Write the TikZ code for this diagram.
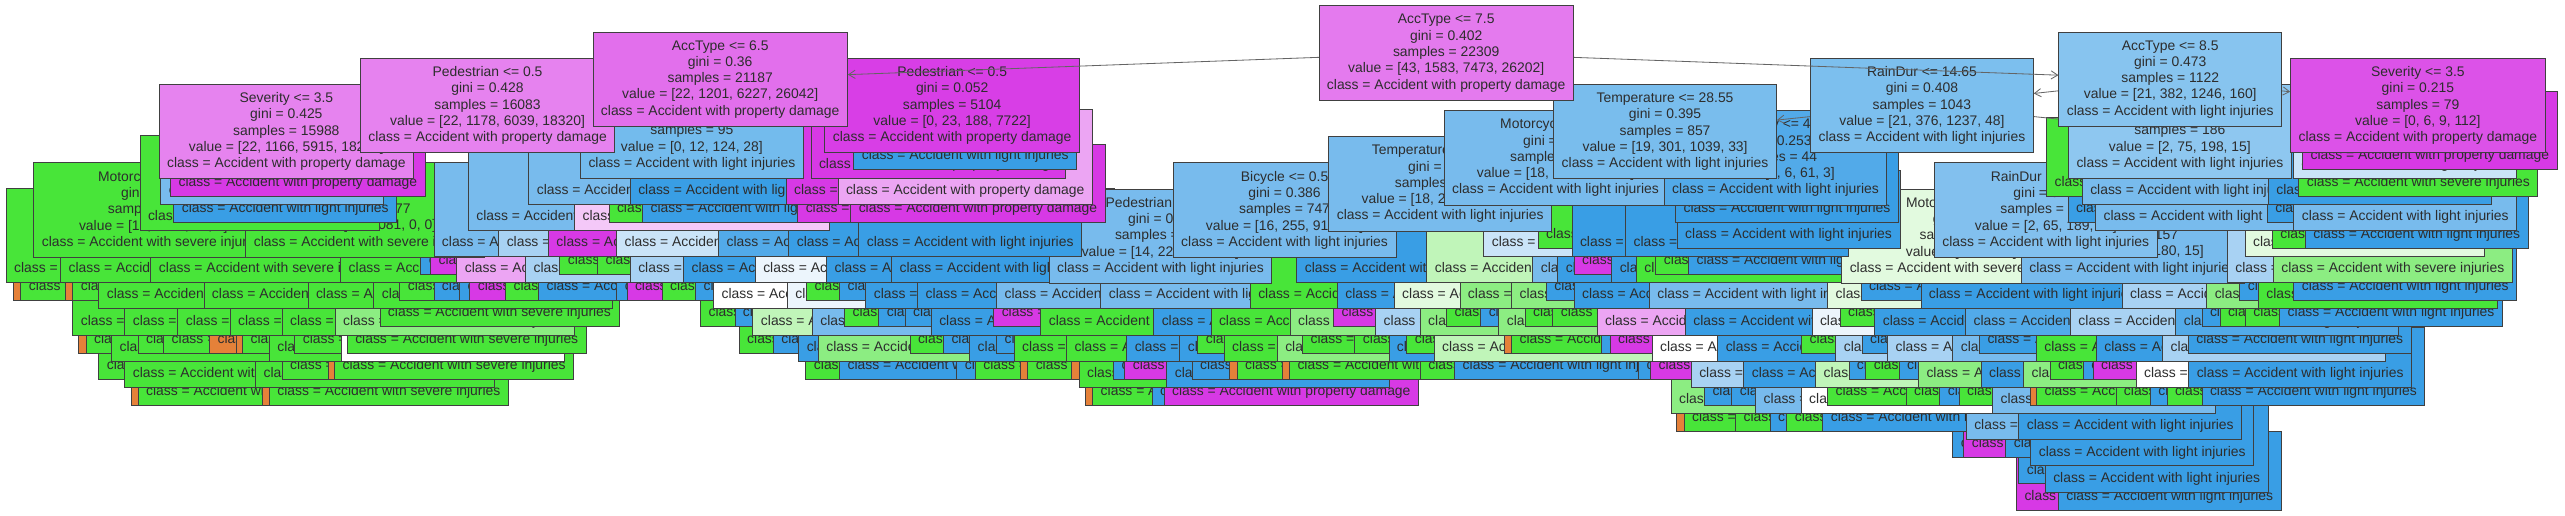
\documentclass[tikz,border=0pt]{standalone}
\usepackage{fontspec}
\setmainfont{Liberation Sans}
\usetikzlibrary{arrows.meta}
\definecolor{cG}{RGB}{72,229,57}
\definecolor{cGl}{RGB}{140,237,130}
\definecolor{cGp}{RGB}{192,245,185}
\definecolor{cGvp}{RGB}{226,250,223}
\definecolor{cB}{RGB}{57,158,229}
\definecolor{cBm}{RGB}{82,170,233}
\definecolor{cBl}{RGB}{120,187,237}
\definecolor{cBp}{RGB}{168,210,243}
\definecolor{cBvp}{RGB}{202,228,248}
\definecolor{cBw}{RGB}{236,245,252}
\definecolor{cW}{RGB}{255,255,255}
\definecolor{cM}{RGB}{215,57,229}
\definecolor{cMp}{RGB}{236,165,243}
\definecolor{cMvp}{RGB}{244,200,248}
\definecolor{cO}{RGB}{229,129,57}
\definecolor{cRoot}{RGB}{228,122,238}
\definecolor{cA65}{RGB}{226,111,236}
\definecolor{cP428}{RGB}{230,130,239}
\definecolor{cSev}{RGB}{230,131,239}
\definecolor{cP052}{RGB}{216,62,230}
\definecolor{cR1465}{RGB}{124,191,238}
\definecolor{cA85}{RGB}{135,196,239}
\definecolor{cS215}{RGB}{220,82,232}
\definecolor{cT}{RGB}{121,189,237}
\definecolor{cS95}{RGB}{115,187,237}
\definecolor{cS186}{RGB}{142,199,240}
\definecolor{cRD}{RGB}{130,192,238}
\definecolor{edge}{RGB}{64,64,64}
\definecolor{ink}{RGB}{45,45,45}
\definecolor{arrowc}{RGB}{100,100,100}
\newcount\bxn
\newcommand\Ltx{class = Accident with light injuries}
\newcommand\Stx{class = Accident with severe injuries}
\newcommand\Ptx{class = Accident with property damage}
\newcommand\Otx{class = Accident with fatalities}
\newcommand\TBi[4]{\global\advance\bxn by 1\relax
  \pgfmathsetmacro\ybot{61.1+16*#1}%
  \node[cbox, fill=#3, text height=47.7pt, anchor=south west] (b\the\bxn) at (#2,\ybot) {#4};}
\newcommand\TBl[4]{\global\advance\bxn by 1\relax
  \pgfmathsetmacro\ybot{56.1+16*#1}%
  \node[cbox, fill=#3, text height=37.7pt, anchor=south west] (b\the\bxn) at (#2,\ybot) {#4};}
\newcommand\TBf[5]{\pgfmathsetmacro\ytop{3.3+16*#1}%
  \node[fbox, fill=#3, anchor=north west] (#4) at (#2,\ytop) {#5};}
\newcommand\hid{\phantom{X}}
\tikzset{
  base/.style={draw=edge, line width=0.55pt, text=ink, font=\fontsize{8.5}{9.96}\selectfont, inner xsep=4.9pt},
  cbox/.style={base, text depth=2pt, inner ysep=4.05pt},
  fbox/.style={base, align=center, minimum height=57.8pt, inner ysep=0pt},
  arr/.style={draw=arrowc, line width=0.5pt, -{Straight Barb[length=4pt,width=5pt]}},
}
\begin{document}
\begin{tikzpicture}[x=1pt,y=-1pt]
\useasboundingbox (0,0) rectangle (1568,315);
\fill[white] (0,0) rectangle (1568,315);
% depth 16
\TBl{16}{1232.4}{cM}{\Ptx}
\TBl{16}{1258}{cB}{\Ltx}
% depth 15
\TBl{15}{1233.9}{cB}{\Ltx}
\TBi{15}{1250}{cB}{\Ltx}
% depth 14
\TBl{14}{1193.5}{cB}{\Ltx}
\TBl{14}{1200.2}{cM}{\Ptx}
\TBl{14}{1225.9}{cB}{\Ltx}
\TBi{14}{1241.2}{cB}{\Ltx}
% depth 13
\TBl{13}{1024.8}{cO}{\Otx}
\TBl{13}{1029.2}{cG}{\Stx}
\TBl{13}{1060.7}{cG}{\Stx}
\TBl{13}{1081.8}{cB}{\Ltx}
\TBl{13}{1092}{cG}{\Stx}
\TBl{13}{1114}{cB}{\Ltx}
\TBi{13}{1201.7}{cBl}{\Ltx}
\TBi{13}{1233.9}{cB}{\Ltx}
% depth 12
\TBl{12}{79.8}{cO}{\Otx}
\TBl{12}{84.2}{cG}{\Stx}
\TBl{12}{160}{cO}{\Otx}
\TBl{12}{164.4}{cG}{\Stx}
\TBl{12}{663.3}{cO}{\Otx}
\TBl{12}{667.7}{cG}{\Stx}
\TBl{12}{704}{cB}{\Ltx}
\TBl{12}{711.3}{cM}{\Ptx}
\TBi{12}{1021.3}{cGl}{\Stx}
\TBl{12}{1041.7}{cB}{\Ltx}
\TBl{12}{1058.4}{cB}{\Ltx}
\TBi{12}{1073}{cBl}{\Ltx}
\TBi{12}{1100.8}{cW}{\Ltx}
\TBl{12}{1116.9}{cG}{\Stx}
\TBl{12}{1165}{cG}{\Stx}
\TBl{12}{1185.6}{cB}{\Ltx}
\TBl{12}{1197.3}{cG}{\Stx}
\TBi{12}{1217.8}{cBl}{\Ltx}
\TBl{12}{1241.2}{cO}{\Otx}
\TBl{12}{1244.7}{cG}{\Stx}
\TBl{12}{1293.2}{cG}{\Stx}
\TBl{12}{1314.2}{cB}{\Ltx}
\TBl{12}{1324.4}{cG}{\Stx}
\TBl{12}{1345.8}{cB}{\Ltx}
% depth 11
\TBl{11}{60.2}{cG}{\Stx}
\TBi{11}{76.1}{cG}{\Stx}
\TBi{11}{156}{cG}{\Stx}
\TBl{11}{172.2}{cG}{\Stx}
\TBl{11}{200.2}{cO}{\Otx}
\TBl{11}{204.3}{cG}{\Stx}
\TBl{11}{492.4}{cG}{\Stx}
\TBl{11}{513}{cB}{\Ltx}
\TBl{11}{584.7}{cB}{\Ltx}
\TBl{11}{596}{cG}{\Stx}
\TBl{11}{623.7}{cO}{\Otx}
\TBl{11}{628}{cG}{\Stx}
\TBl{11}{655}{cO}{\Otx}
\TBi{11}{659.4}{cG}{\Stx}
\TBl{11}{680.5}{cB}{\Ltx}
\TBl{11}{687.4}{cM}{\Ptx}
\TBi{11}{713}{cB}{\Ltx}
\TBl{11}{728.5}{cB}{\Ltx}
\TBl{11}{751.5}{cO}{\Otx}
\TBl{11}{756}{cG}{\Stx}
\TBl{11}{783.6}{cO}{\Otx}
\TBl{11}{788}{cG}{\Stx}
\TBl{11}{868}{cG}{\Stx}
\TBl{11}{889}{cB}{\Ltx}
\TBl{11}{1001.4}{cB}{\Ltx}
\TBl{11}{1008.7}{cM}{\Ptx}
\TBi{11}{1033.6}{cBp}{\Ltx}
\TBi{11}{1065.7}{cB}{\Ltx}
\TBi{11}{1109.6}{cGp}{\Stx}
\TBl{11}{1130}{cB}{\Ltx}
\TBl{11}{1140.3}{cG}{\Stx}
\TBl{11}{1160.7}{cB}{\Ltx}
\TBi{11}{1172.5}{cGl}{\Stx}
\TBi{11}{1210.8}{cB}{\Ltx}
\TBi{11}{1236.8}{cGl}{\Stx}
\TBl{11}{1252.9}{cG}{\Stx}
\TBl{11}{1273.3}{cB}{\Ltx}
\TBl{11}{1279.2}{cM}{\Ptx}
\TBi{11}{1305.5}{cW}{\Ltx}
\TBi{11}{1337.7}{cB}{\Ltx}
% depth 10
\TBl{10}{47.7}{cO}{\Otx}
\TBl{10}{52.4}{cG}{\Stx}
\TBi{10}{68}{cG}{\Stx}
\TBl{10}{84.2}{cG}{\Stx}
\TBl{10}{99.8}{cG}{\Stx}
\TBl{10}{127.9}{cO}{\Otx}
\TBl{10}{144}{cO}{\Otx}
\TBl{10}{148}{cG}{\Stx}
\TBi{10}{164.4}{cG}{\Stx}
\TBl{10}{180}{cG}{\Stx}
\TBi{10}{208.4}{cW}{\Ltx}
\TBl{10}{212}{cG}{\Stx}
\TBl{10}{451.6}{cG}{\Stx}
\TBl{10}{472.5}{cB}{\Ltx}
\TBi{10}{488}{cB}{\Ltx}
\TBi{10}{500}{cGl}{\Stx}
\TBl{10}{556}{cG}{\Stx}
\TBl{10}{576.5}{cB}{\Ltx}
\TBi{10}{592.5}{cB}{\Ltx}
\TBl{10}{609}{cB}{\Ltx}
\TBi{10}{619.6}{cG}{\Stx}
\TBi{10}{651.7}{cG}{\Stx}
\TBi{10}{688.5}{cB}{\Ltx}
\TBi{10}{721}{cB}{\Ltx}
\TBl{10}{732}{cG}{\Stx}
\TBi{10}{748}{cG}{\Stx}
\TBi{10}{780.5}{cGl}{\Stx}
\TBl{10}{796}{cG}{\Stx}
\TBl{10}{828}{cG}{\Stx}
\TBi{10}{848.8}{cB}{\Ltx}
\TBl{10}{859.7}{cG}{\Stx}
\TBi{10}{876.4}{cGp}{\Stx}
\TBl{10}{919.6}{cO}{\Otx}
\TBl{10}{923.8}{cG}{\Stx}
\TBl{10}{978.7}{cB}{\Ltx}
\TBl{10}{984}{cM}{\Ptx}
\TBi{10}{1009.7}{cW}{\Ltx}
\TBi{10}{1049.8}{cB}{\Ltx}
\TBl{10}{1101}{cG}{\Stx}
\TBi{10}{1122}{cBp}{\Ltx}
\TBl{10}{1138}{cB}{\Ltx}
\TBi{10}{1153.6}{cBp}{\Ltx}
\TBi{10}{1193.5}{cBl}{\Ltx}
\TBl{10}{1209.8}{cB}{\Ltx}
\TBi{10}{1244.5}{cG}{\Stx}
\TBi{10}{1281.2}{cB}{\Ltx}
\TBi{10}{1321.7}{cBp}{\Ltx}
\TBl{10}{1337.5}{cB}{\Ltx}
% depth 9
\TBi{9}{44.3}{cG}{\Stx}
\TBi{9}{76.1}{cG}{\Stx}
\TBi{9}{108.5}{cG}{\Stx}
\TBi{9}{140.4}{cG}{\Stx}
\TBi{9}{172.2}{cG}{\Stx}
\TBi{9}{204.6}{cGl}{\Stx}
\TBl{9}{232}{cG}{\Stx}
\TBl{9}{428}{cG}{\Stx}
\TBl{9}{449}{cB}{\Ltx}
\TBi{9}{460}{cGp}{\Stx}
\TBi{9}{496.3}{cBl}{\Ltx}
\TBl{9}{516}{cG}{\Stx}
\TBl{9}{537}{cB}{\Ltx}
\TBl{9}{553}{cB}{\Ltx}
\TBi{9}{569}{cB}{\Ltx}
\TBl{9}{607.2}{cM}{\Ptx}
\TBi{9}{636}{cG}{\Stx}
\TBi{9}{705}{cB}{\Ltx}
\TBi{9}{740}{cG}{\Stx}
\TBi{9}{788.4}{cGl}{\Stx}
\TBl{9}{815}{cM}{\Ptx}
\TBi{9}{840.7}{cBp}{\Ltx}
\TBi{9}{867.9}{cGl}{\Stx}
\TBl{9}{884}{cG}{\Stx}
\TBl{9}{904.9}{cB}{\Ltx}
\TBi{9}{916}{cGl}{\Stx}
\TBl{9}{932}{cG}{\Stx}
\TBl{9}{949}{cG}{\Stx}
\TBi{9}{976}{cMp}{\Ptx}
\TBi{9}{1030}{cB}{\Ltx}
\TBi{9}{1107.4}{cBw}{\Ltx}
\TBl{9}{1124.6}{cG}{\Stx}
\TBi{9}{1145.8}{cB}{\Ltx}
\TBi{9}{1201.3}{cBm}{\Ltx}
\TBi{9}{1265.4}{cBp}{\Ltx}
\TBi{9}{1329.8}{cBm}{\Ltx}
\TBl{9}{1345.8}{cB}{\Ltx}
\TBl{9}{1356.8}{cG}{\Stx}
\TBl{9}{1372.3}{cG}{\Stx}
\TBl{9}{1393.3}{cB}{\Ltx}
% depth 8
\TBl{8}{7.8}{cO}{\Otx}
\TBl{8}{12.5}{cG}{\Stx}
\TBl{8}{40}{cO}{\Otx}
\TBl{8}{44.3}{cG}{\Stx}
\TBi{8}{60.2}{cG}{\Stx}
\TBi{8}{124.4}{cG}{\Stx}
\TBi{8}{188}{cG}{\Stx}
\TBi{8}{228.3}{cG}{\Stx}
\TBl{8}{244.2}{cG}{\Stx}
\TBl{8}{265}{cB}{\Ltx}
\TBl{8}{280.7}{cB}{\Ltx}
\TBl{8}{287}{cM}{\Ptx}
\TBl{8}{308.8}{cG}{\Stx}
\TBl{8}{329}{cB}{\Ltx}
\TBl{8}{376.8}{cB}{\Ltx}
\TBl{8}{383}{cM}{\Ptx}
\TBl{8}{404.5}{cG}{\Stx}
\TBl{8}{425}{cB}{\Ltx}
\TBi{8}{436}{cW}{\Ltx}
\TBi{8}{481}{cBw}{\Ltx}
\TBl{8}{492.8}{cG}{\Stx}
\TBl{8}{513}{cB}{\Ltx}
\TBi{8}{529}{cB}{\Ltx}
\TBi{8}{560.7}{cB}{\Ltx}
\TBi{8}{609}{cBl}{\Ltx}
\TBi{8}{672.7}{cBl}{\Ltx}
\TBi{8}{764}{cG}{\Stx}
\TBi{8}{817.3}{cB}{\Ltx}
\TBi{8}{852}{cGvp}{\Stx}
\TBi{8}{892.2}{cGl}{\Stx}
\TBi{8}{923.8}{cGl}{\Stx}
\TBl{8}{945}{cB}{\Ltx}
\TBi{8}{962}{cB}{\Ltx}
\TBi{8}{1008}{cBl}{\Ltx}
\TBi{8}{1117}{cGvp}{\Stx}
\TBl{8}{1137.4}{cB}{\Ltx}
\TBi{8}{1174}{cB}{\Ltx}
\TBi{8}{1297}{cBp}{\Ltx}
\TBi{8}{1348.7}{cGl}{\Stx}
\TBl{8}{1369}{cB}{\Ltx}
\TBi{8}{1380.3}{cG}{\Stx}
\TBl{8}{1402}{cB}{\Ltx}
% depth 7
\TBi{7}{3.5}{cG}{\Stx}
\TBi{7}{36.8}{cG}{\Stx}
\TBi{7}{92}{cG}{\Stx}
\TBi{7}{208}{cG}{\Stx}
\TBl{7}{257}{cB}{\Ltx}
\TBl{7}{263}{cM}{\Ptx}
\TBi{7}{279}{cMp}{\Ptx}
\TBi{7}{321}{cBp}{\Ltx}
\TBl{7}{342}{cG}{\Stx}
\TBl{7}{365}{cG}{\Stx}
\TBi{7}{385}{cBp}{\Ltx}
\TBi{7}{417.6}{cB}{\Ltx}
\TBi{7}{461.4}{cBw}{\Ltx}
\TBi{7}{505}{cB}{\Ltx}
\TBi{7}{544.8}{cB}{\Ltx}
\TBf{7}{641}{cBl}{ped7}{Pedestrian <= 0.5\\gini = 0.37\\samples = 640\\value = [14, 226, 860, 25]\\\Ltx}
\TBi{7}{792.5}{cB}{\Ltx}
\TBi{7}{872}{cGp}{\Stx}
\TBi{7}{936.8}{cBl}{\Ltx}
\TBi{7}{952}{cB}{\Ltx}
\TBl{7}{962}{cM}{\Ptx}
\TBi{7}{985}{cB}{\Ltx}
\TBi{7}{1000}{cG}{\Stx}
\TBl{7}{1012}{cG}{\Stx}
\TBl{7}{1032}{cB}{\Ltx}
\TBf{7}{1125.6}{cGvp}{moto7}{Motorcycle <= 0.5\\gini = 0.5\\samples = 12\\value = [0, 9, 7, 0]\\\Stx}
\TBf{7}{1235.4}{cBl}{n157}{\hid\\\hid\\samples = 157\\value = [2, 61, 180, 15]\\\Ltx}
\TBi{7}{1361.3}{cBp}{\Ltx}
\TBi{7}{1389.4}{cGl}{\Stx}
% depth 6
\TBf{6}{20.4}{cG}{moto6}{Motorcycle <= 0.5\\gini = 0.12\\samples = 700\\value = [10, 1100, 60, 5]\\\Stx}
\TBf{6}{150}{cG}{n677}{\hid\\\hid\\samples = 677\\value = [17, 1081, 0, 0]\\\Stx}
\TBi{6}{265}{cBl}{\Ltx}
\TBi{6}{304.6}{cBp}{\Ltx}
\TBi{6}{335}{cM}{\Ptx}
\TBi{6}{376.7}{cBvp}{\Ltx}
\TBi{6}{439}{cBm}{\Ltx}
\TBi{6}{482}{cB}{\Ltx}
\TBi{6}{524.7}{cB}{\Ltx}
\TBf{6}{716.9}{cBl}{bike}{Bicycle <= 0.5\\gini = 0.386\\samples = 747\\value = [16, 255, 917, 30]\\\Ltx}
\TBi{6}{906.8}{cBvp}{\Ltx}
\TBl{6}{940}{cG}{\Stx}
\TBi{6}{960.7}{cB}{\Ltx}
\TBi{6}{993.5}{cB}{\Ltx}
\TBl{6}{1025}{cB}{\Ltx}
\TBf{6}{1182.2}{cRD}{rain6}{RainDur <= 12.35\\gini = 0.44\\samples = 165\\value = [2, 65, 189, 15]\\\Ltx}
\TBi{6}{1372.2}{cGvp}{\Stx}
\TBl{6}{1388.8}{cG}{\Stx}
\TBl{6}{1409}{cB}{\Ltx}
% depth 5
\TBi{5}{85.3}{cG}{\Stx}
\TBl{5}{106}{cB}{\Ltx}
\TBi{5}{286}{cBl}{\Ltx}
\TBi{5}{351}{cMvp}{\Ptx}
\TBl{5}{372}{cG}{\Stx}
\TBl{5}{392.6}{cB}{\Ltx}
\TBl{5}{487.4}{cM}{\Ptx}
\TBl{5}{519.8}{cM}{\Ptx}
\TBf{5}{812.1}{cBl}{temp5}{Temperature <= 27.45\\gini = 0.38\\samples = 790\\value = [18, 272, 965, 30]\\\Ltx}
\TBl{5}{1024}{cB}{\Ltx}
\TBl{5}{1264}{cB}{\Ltx}
\TBi{5}{1280.8}{cBl}{\Ltx}
\TBl{5}{1385.8}{cB}{\Ltx}
\TBi{5}{1402}{cBl}{\Ltx}
% depth 4
\TBi{4}{98}{cBl}{\Ltx}
\TBl{4}{104}{cM}{\Ptx}
\TBi{4}{323}{cBl}{\Ltx}
\TBi{4}{385}{cB}{\Ltx}
\TBi{4}{480.3}{cM}{\Ptx}
\TBi{4}{512}{cMp}{\Ptx}
\TBf{4}{882.5}{cBl}{moto4}{Motorcycle <= 0.5\\gini = 0.39\\samples = 813\\value = [18, 280, 978, 30]\\\Ltx}
\TBf{4}{1017}{cBm}{n44}{Severity <= 4.5\\gini = 0.253\\samples = 44\\value = [1, 6, 61, 3]\\\Ltx}
\TBl{4}{1250.8}{cG}{\Stx}
\TBi{4}{1272.6}{cBl}{\Ltx}
\TBi{4}{1386.4}{cB}{\Ltx}
\TBl{4}{1405}{cG}{\Stx}
% depth 3
\TBf{3}{97}{cSev}{sev425}{Severity <= 3.5\\gini = 0.425\\samples = 15988\\value = [22, 1166, 5915, 18287]\\\Ptx}
\TBf{3}{354.6}{cS95}{n95}{\hid\\\hid\\samples = 95\\value = [0, 12, 124, 28]\\\Ltx}
\TBi{3}{495.5}{cM}{\Ptx}
\TBl{3}{521.7}{cB}{\Ltx}
\TBf{3}{949.5}{cT}{temp2855}{Temperature <= 28.55\\gini = 0.395\\samples = 857\\value = [19, 301, 1039, 33]\\\Ltx}
\TBf{3}{1264.2}{cS186}{n186}{\hid\\\hid\\samples = 186\\value = [2, 75, 198, 15]\\\Ltx}
\TBi{3}{1401.6}{cBvp}{\Ltx}
\TBl{3}{1407.3}{cM}{\Ptx}
% connectors out of RainDur <= 14.65
\coordinate (c-rain) at (1174.7,64.2);
\draw[arr] (c-rain) -- (temp2855);
\draw[arr] (c-rain) -- (n186);
% depth 2
\TBf{2}{220}{cP428}{ped428}{Pedestrian <= 0.5\\gini = 0.428\\samples = 16083\\value = [22, 1178, 6039, 18320]\\\Ptx}
\TBf{2}{504}{cP052}{ped052}{Pedestrian <= 0.5\\gini = 0.052\\samples = 5104\\value = [0, 23, 188, 7722]\\\Ptx}
\TBf{2}{1106.5}{cR1465}{rain1465}{RainDur <= 14.65\\gini = 0.408\\samples = 1043\\value = [21, 376, 1237, 48]\\\Ltx}
\TBf{2}{1400}{cS215}{sev215}{Severity <= 3.5\\gini = 0.215\\samples = 79\\value = [0, 6, 9, 112]\\\Ptx}
\coordinate (c-acc65) at (440.1,48.2);
\coordinate (c-acc85) at (1326.5,48.2);
\draw[arr] (c-acc65) -- (ped428);
\draw[arr] (c-acc65) -- (ped052);
\draw[arr] (c-acc85) -- (rain1465);
\draw[arr] (c-acc85) -- (sev215);
% depth 1
\TBf{1}{362.2}{cA65}{acc65}{AccType <= 6.5\\gini = 0.36\\samples = 21187\\value = [22, 1201, 6227, 26042]\\\Ptx}
\TBf{1}{1258.3}{cA85}{acc85}{AccType <= 8.5\\gini = 0.473\\samples = 1122\\value = [21, 382, 1246, 160]\\\Ltx}
\coordinate (c-root) at (883.9,32.2);
\draw[arr] (c-root) -- (acc65);
\draw[arr] (c-root) -- (acc85);
% root
\TBf{0}{806}{cRoot}{root}{AccType <= 7.5\\gini = 0.402\\samples = 22309\\value = [43, 1583, 7473, 26202]\\\Ptx}
\end{tikzpicture}
\end{document}
